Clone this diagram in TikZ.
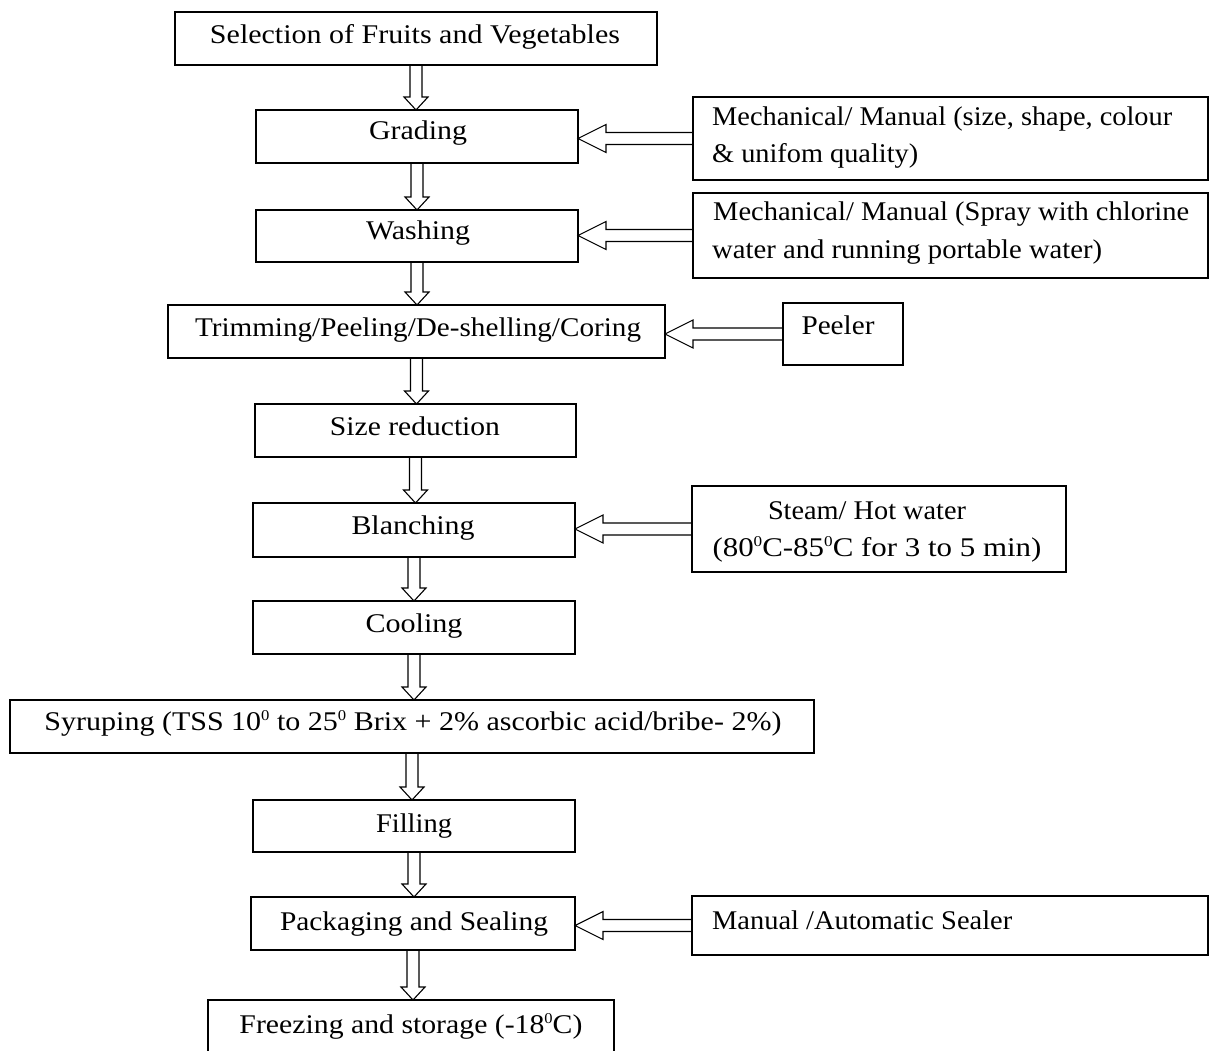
\documentclass[tikz,border=0pt]{standalone}
\usepackage{fontspec}
\setmainfont{Liberation Serif}
\usepackage{graphicx}
\usetikzlibrary{calc}
% stretch a label horizontally to a given width (in pt), keeping its height
\newcommand{\fw}[2]{\resizebox{#1pt}{\height}{#2}}
% small raised zero used as a degree mark
\newcommand{\dg}{\raisebox{0.36em}{\fontsize{15}{15}\selectfont 0}}
\begin{document}
\begin{tikzpicture}[x=1pt,y=-1pt,
  box/.style={draw, line width=1.2pt, inner sep=0, outer sep=0},
  txt/.style={inner sep=0, anchor=base, font=\fontsize{27}{30}\selectfont},
  txtl/.style={txt, anchor=base west},
  blockdown/.style={draw, line width=1.1pt, to path={
    let \p1=(\tikztostart), \p2=(\tikztotarget) in
    (\x1-6pt,\y1) -- (\x1-6pt,\y2+13pt) -- (\x1-12pt,\y2+13pt) -- (\x1,\y2)
    -- (\x1+12pt,\y2+13pt) -- (\x1+6pt,\y2+13pt) -- (\x1+6pt,\y1)}},
  blockleft/.style={draw, line width=1.1pt, to path={
    let \p1=(\tikztostart), \p2=(\tikztotarget) in
    (\x1,\y1+6pt) -- (\x2+28pt,\y1+6pt) -- (\x2+28pt,\y1+14pt) -- (\x2,\y1)
    -- (\x2+28pt,\y1-14pt) -- (\x2+28pt,\y1-6pt) -- (\x1,\y1-6pt)}}]
\useasboundingbox (0,0) rectangle (1210,1051);
\clip (0,0) rectangle (1210,1051);

% main process column
\node[box, minimum width=482, minimum height=53] (sel)    at (416,38.5)   {};
\node[box, minimum width=322, minimum height=53] (grad)   at (417,136.5)  {};
\node[box, minimum width=322, minimum height=52] (wash)   at (417,236)    {};
\node[box, minimum width=497, minimum height=53] (trim)   at (416.5,331.5){};
\node[box, minimum width=321, minimum height=53] (size)   at (415.5,430.5){};
\node[box, minimum width=322, minimum height=54] (blanch) at (414,530)    {};
\node[box, minimum width=322, minimum height=53] (cool)   at (414,627.5)  {};
\node[box, minimum width=804, minimum height=53] (syrup)  at (412,726.5)  {};
\node[box, minimum width=322, minimum height=52] (fill)   at (414,826)    {};
\node[box, minimum width=324, minimum height=53] (pack)   at (413,923.5)  {};
\node[box, minimum width=406, minimum height=65] (freeze) at (411,1032.5) {};

% side inputs
\node[box, minimum width=515, minimum height=83] (gradin)  at (950.5,138.5) {};
\node[box, minimum width=515, minimum height=85] (washin)  at (950.5,235.5) {};
\node[box, minimum width=120, minimum height=62] (peelin)  at (843,334)     {};
\node[box, minimum width=374, minimum height=86] (steamin) at (879,529)     {};
\node[box, minimum width=516, minimum height=59] (sealin)  at (950,925.5)   {};

% labels
\node[txt] (selt)    at (415,44)   {\fw{410}{Selection of Fruits and Vegetables}};
\node[txt] (gradt)   at (418,140)  {\fw{98}{Grading}};
\node[txt] (washt)   at (418,240)  {\fw{104}{Washing}};
\node[txt] (trimt)   at (418,336)  {\fw{446}{Trimming/Peeling/De-shelling/Coring}};
\node[txt] (sizet)   at (415,435)  {\fw{170}{Size reduction}};
\node[txt] (blancht) at (413,534)  {\fw{123}{Blanching}};
\node[txt] (coolt)   at (414,632)  {\fw{97}{Cooling}};
\node[txt] (syrupt)  at (413,730)  {\fw{737}{Syruping (TSS 10\dg{} to 25\dg{} Brix + 2\% ascorbic acid/bribe- 2\%)}};
\node[txt] (fillt)   at (414,832)  {\fw{76}{Filling}};
\node[txt] (packt)   at (414,930)  {\fw{268}{Packaging and Sealing}};
\node[txt] (freezet) at (411,1033) {\fw{343}{Freezing and storage (-18\dg C)}};

\node[txtl] (gradin1) at (712,126) {\fw{460}{Mechanical/ Manual (size, shape, colour}};
\node[txtl] (gradin2) at (712,163) {\fw{206}{\& unifom quality)}};
\node[txtl] (washin1) at (713,221) {\fw{476}{Mechanical/ Manual (Spray with chlorine}};
\node[txtl] (washin2) at (712,258) {\fw{390}{water and running portable water)}};
\node[txt]  (peelt)   at (838,334) {\fw{73}{Peeler}};
\node[txt]  (steam1)  at (867,519) {\fw{198}{Steam/ Hot water}};
\node[txt]  (steam2)  at (877,556) {\fw{329}{(80\dg C-85\dg C for 3 to 5 min)}};
\node[txtl] (sealt)   at (712,929) {\fw{300}{Manual /Automatic Sealer}};

% flow arrows
\draw[blockdown] (sel.south)    to (grad.north);
\draw[blockdown] (grad.south)   to (wash.north);
\draw[blockdown] (wash.south)   to (trim.north);
\draw[blockdown] (trim.south)   to (size.north);
\draw[blockdown] (size.south)   to (blanch.north);
\draw[blockdown] (blanch.south) to (cool.north);
\draw[blockdown] (cool.south)   to (syrup.north);
\draw[blockdown] (syrup.south)  to (fill.north);
\draw[blockdown] (fill.south)   to (pack.north);
\draw[blockdown] (pack.south)   to (freeze.north);

% input arrows
\draw[blockleft] (gradin.west)  to (grad.east);
\draw[blockleft] (washin.west)  to (wash.east);
\draw[blockleft] (peelin.west)  to (trim.east);
\draw[blockleft] (steamin.west) to (blanch.east);
\draw[blockleft] (sealin.west)  to (pack.east);
\end{tikzpicture}
\end{document}
